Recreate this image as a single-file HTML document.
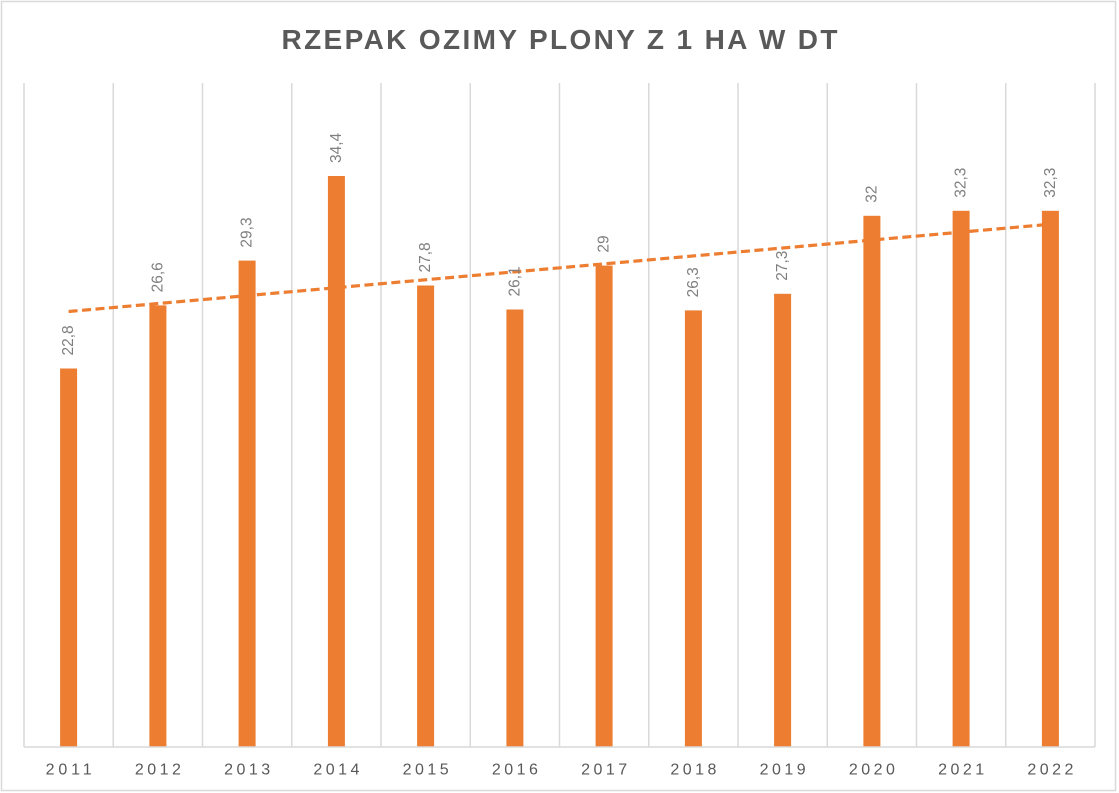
<!DOCTYPE html>
<html>
<head>
<meta charset="utf-8">
<style>
  html, body { margin: 0; padding: 0; background: #ffffff; }
  svg { display: block; }
  text { font-family: "Liberation Sans", sans-serif; }
</style>
</head>
<body>
<svg width="1119" height="793" viewBox="0 0 1119 793" xmlns="http://www.w3.org/2000/svg">
  <rect x="0" y="0" width="1119" height="793" fill="#ffffff"/>
  <rect x="1.5" y="1.5" width="1114" height="789" fill="none" stroke="#d9d9d9" stroke-width="1.5"/>

  <!-- Title -->
  <text x="559.5" y="49" text-anchor="middle" font-size="28" font-weight="bold" fill="#595959" textLength="556" lengthAdjust="spacing">RZEPAK OZIMY PLONY Z 1 HA W DT</text>

  <!-- Vertical gridlines -->
  <g stroke="#d9d9d9" stroke-width="1.5">
    <line x1="24" y1="83" x2="24" y2="747"/>
    <line x1="113.25" y1="83" x2="113.25" y2="747"/>
    <line x1="202.5" y1="83" x2="202.5" y2="747"/>
    <line x1="291.75" y1="83" x2="291.75" y2="747"/>
    <line x1="381" y1="83" x2="381" y2="747"/>
    <line x1="470.25" y1="83" x2="470.25" y2="747"/>
    <line x1="559.5" y1="83" x2="559.5" y2="747"/>
    <line x1="648.75" y1="83" x2="648.75" y2="747"/>
    <line x1="738" y1="83" x2="738" y2="747"/>
    <line x1="827.25" y1="83" x2="827.25" y2="747"/>
    <line x1="916.5" y1="83" x2="916.5" y2="747"/>
    <line x1="1005.75" y1="83" x2="1005.75" y2="747"/>
    <line x1="1095" y1="83" x2="1095" y2="747"/>
  </g>

  <!-- Bars -->
  <g fill="#ED7D31">
    <rect x="60.1" y="368.5" width="17" height="378.5"/>
    <rect x="149.4" y="305.4" width="17" height="441.6"/>
    <rect x="238.6" y="260.6" width="17" height="486.4"/>
    <rect x="327.9" y="176" width="17" height="571"/>
    <rect x="417.1" y="285.5" width="17" height="461.5"/>
    <rect x="506.4" y="309.5" width="17" height="437.5"/>
    <rect x="595.6" y="265.6" width="17" height="481.4"/>
    <rect x="684.9" y="310.4" width="17" height="436.6"/>
    <rect x="774.1" y="293.8" width="17" height="453.2"/>
    <rect x="863.4" y="215.8" width="17" height="531.2"/>
    <rect x="952.6" y="210.8" width="17" height="536.2"/>
    <rect x="1041.9" y="210.8" width="17" height="536.2"/>
  </g>

  <!-- Horizontal axis line -->
  <line x1="24" y1="747" x2="1095" y2="747" stroke="#d9d9d9" stroke-width="1.5"/>

  <!-- Trendline -->
  <line x1="68.6" y1="311.5" x2="1050.4" y2="224.2" stroke="#ED7D31" stroke-width="3.2" stroke-dasharray="9 4.5"/>

  <!-- Data labels (rotated) -->
  <g font-size="15.5" fill="#7f7f7f">
    <text transform="translate(68.6,355.5) rotate(-90)" dominant-baseline="central">22,8</text>
    <text transform="translate(157.9,292.4) rotate(-90)" dominant-baseline="central">26,6</text>
    <text transform="translate(247.1,247.6) rotate(-90)" dominant-baseline="central">29,3</text>
    <text transform="translate(336.4,163) rotate(-90)" dominant-baseline="central">34,4</text>
    <text transform="translate(425.6,272.5) rotate(-90)" dominant-baseline="central">27,8</text>
    <text transform="translate(514.9,296.5) rotate(-90)" dominant-baseline="central">26,1</text>
    <text transform="translate(604.1,252.6) rotate(-90)" dominant-baseline="central">29</text>
    <text transform="translate(693.4,297.4) rotate(-90)" dominant-baseline="central">26,3</text>
    <text transform="translate(782.6,280.8) rotate(-90)" dominant-baseline="central">27,3</text>
    <text transform="translate(871.9,202.8) rotate(-90)" dominant-baseline="central">32</text>
    <text transform="translate(961.1,197.8) rotate(-90)" dominant-baseline="central">32,3</text>
    <text transform="translate(1050.4,197.8) rotate(-90)" dominant-baseline="central">32,3</text>
  </g>

  <!-- Category labels -->
  <g font-size="16" fill="#595959" text-anchor="middle">
    <text x="68.6" y="774.5" textLength="46" lengthAdjust="spacing">2011</text>
    <text x="157.9" y="774.5" textLength="46" lengthAdjust="spacing">2012</text>
    <text x="247.1" y="774.5" textLength="46" lengthAdjust="spacing">2013</text>
    <text x="336.4" y="774.5" textLength="46" lengthAdjust="spacing">2014</text>
    <text x="425.6" y="774.5" textLength="46" lengthAdjust="spacing">2015</text>
    <text x="514.9" y="774.5" textLength="46" lengthAdjust="spacing">2016</text>
    <text x="604.1" y="774.5" textLength="46" lengthAdjust="spacing">2017</text>
    <text x="693.4" y="774.5" textLength="46" lengthAdjust="spacing">2018</text>
    <text x="782.6" y="774.5" textLength="46" lengthAdjust="spacing">2019</text>
    <text x="871.9" y="774.5" textLength="46" lengthAdjust="spacing">2020</text>
    <text x="961.1" y="774.5" textLength="46" lengthAdjust="spacing">2021</text>
    <text x="1050.4" y="774.5" textLength="46" lengthAdjust="spacing">2022</text>
  </g>
</svg>
</body>
</html>
